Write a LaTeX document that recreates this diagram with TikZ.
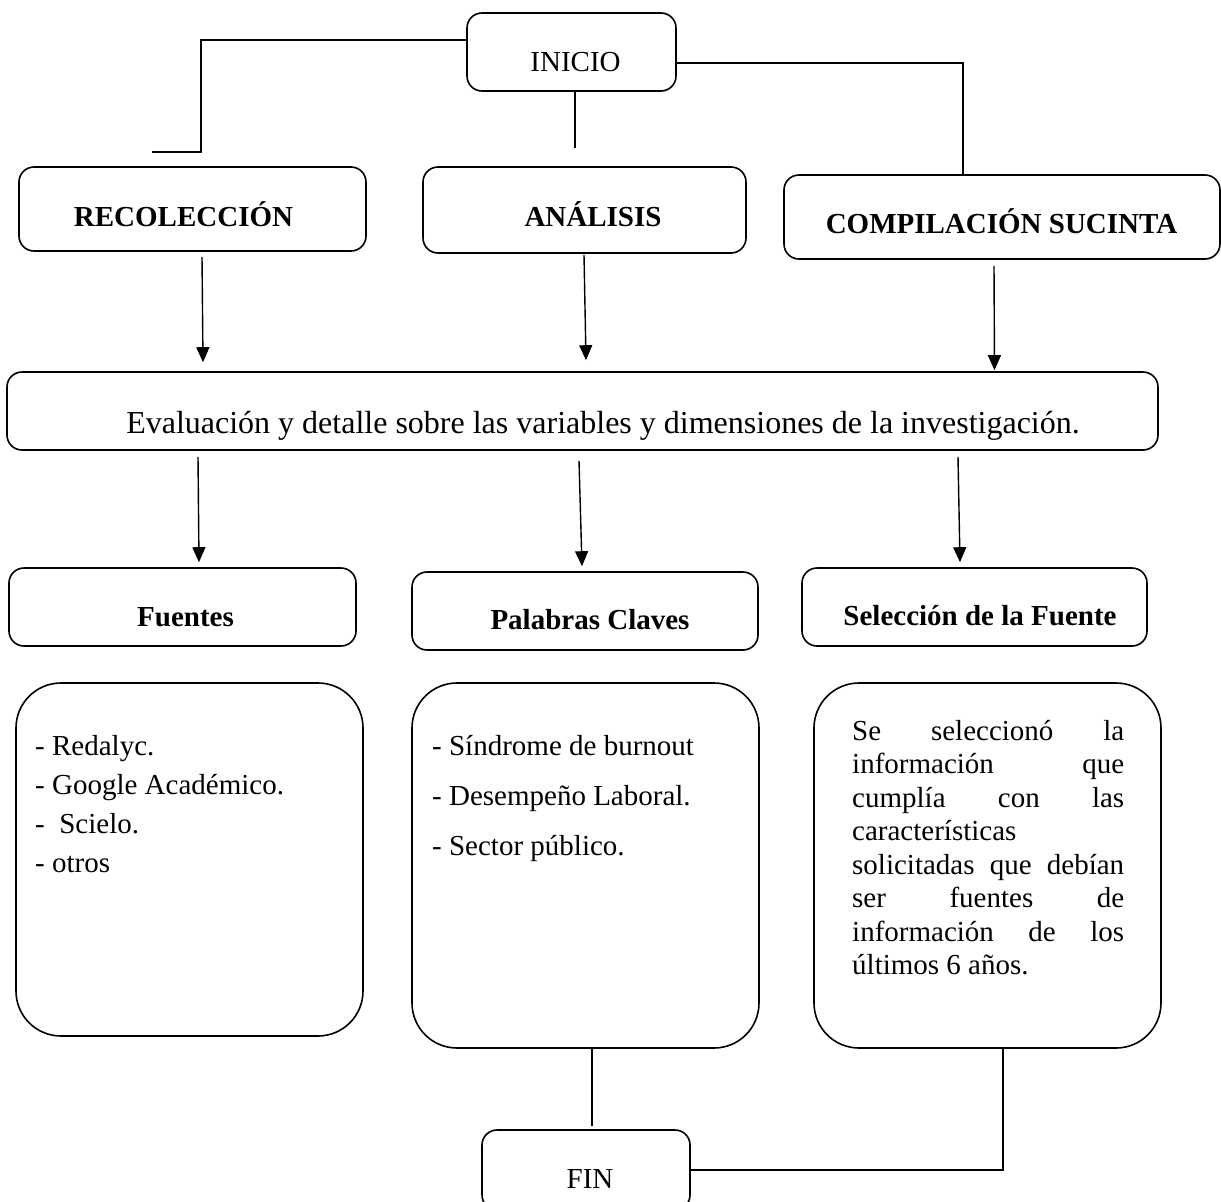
\documentclass[tikz,border=0pt]{standalone}
\usepackage{fontspec}
\setmainfont{Liberation Serif}
\usetikzlibrary{arrows.meta,calc}
\begin{document}
\begin{tikzpicture}[x=1pt,y=-1pt]
\tikzset{
  box/.style={draw, line width=1.6pt, rounded corners=15pt, inner sep=0pt},
  bigbox/.style={draw, line width=1.6pt, rounded corners=45pt, inner sep=0pt},
  txt/.style={font=\fontsize{29}{34}\selectfont, inner sep=0pt, anchor=base},
  btxt/.style={font=\fontsize{29}{34}\selectfont\bfseries, inner sep=0pt, anchor=base},
  listtxt/.style={inner sep=0pt, anchor=base west},
  conn/.style={line width=1.4pt},
  arr/.style={line width=1.4pt, -{Triangle[length=15pt,width=13pt]}},
}
\useasboundingbox (0,0) rectangle (1221,1202);

% boxes
\node[box, minimum width=209pt, minimum height=78pt] (inicio) at (571.5,52) {};
\node[box, minimum width=347pt, minimum height=84pt] (recol) at (192.5,209) {};
\node[box, minimum width=323pt, minimum height=86pt] (anal) at (584.5,210) {};
\node[box, minimum width=436pt, minimum height=84pt] (compil) at (1002,217) {};
\node[box, minimum width=1151pt, minimum height=78pt] (eval) at (582.5,411) {};
\node[box, minimum width=347pt, minimum height=78pt] (fuentes) at (182.5,607) {};
\node[box, minimum width=346pt, minimum height=78pt] (palabras) at (585,611) {};
\node[box, minimum width=345pt, minimum height=78pt] (selec) at (974.5,607) {};
\node[bigbox, minimum width=347pt, minimum height=353pt] (list1) at (189.5,859.5) {};
\node[bigbox, minimum width=347pt, minimum height=365pt] (list2) at (585.5,865.5) {};
\node[bigbox, minimum width=347pt, minimum height=365pt] (list3) at (987.5,865.5) {};
\node[box, minimum width=208pt, minimum height=80pt] (fin) at (586,1170) {};

% texts
\node[txt] (inicio-t) at (575.5,71) {INICIO};
\node[btxt] (recol-t) at (183.5,226) {RECOLECCIÓN};
\node[btxt] (anal-t) at (593,226) {ANÁLISIS};
\node[btxt] (compil-t) at (1001.5,233) {COMPILACIÓN SUCINTA};
\node[txt, font=\fontsize{32}{38}\selectfont] (eval-t) at (603,433) {Evaluación y detalle sobre las variables y dimensiones de la investigación.};
\node[btxt] (fuentes-t) at (185.5,626) {Fuentes};
\node[btxt] (palabras-t) at (590,629) {Palabras Claves};
\node[btxt] (selec-t) at (980,625) {Selección de la Fuente};
\node[txt] (fin-t) at (590,1188) {FIN};

\node[listtxt] (list1-t) at (35,755) {\parbox[t]{320pt}{\fontsize{29}{39}\selectfont
- Redalyc.\\
- Google Académico.\\
-\ \ Scielo.\\
- otros}};
\node[listtxt] (list2-t) at (432,755) {\parbox[t]{320pt}{\fontsize{29}{50}\selectfont
- Síndrome de burnout\\
- Desempeño Laboral.\\
- Sector público.}};
\node[listtxt] (list3-t) at (852,740) {\parbox[t]{272pt}{\fontsize{29}{33.5}\selectfont
\makebox[272pt][s]{Se seleccionó la}\\
\makebox[272pt][s]{información que}\\
\makebox[272pt][s]{cumplía con las}\\
características\\
\makebox[272pt][s]{solicitadas que debían}\\
\makebox[272pt][s]{ser fuentes de}\\
\makebox[272pt][s]{información de los}\\
últimos 6 años.}};

% free ends
\coordinate (k1) at (201,152);
\coordinate (c1) at (152,152);
\coordinate (c2) at (575,148);

% connectors from INICIO
\draw[conn] ([yshift=12pt]inicio.west) -| (k1) -- (c1);
\draw[conn] ([xshift=3.5pt]inicio.south) -- (c2);
\draw[conn] ([yshift=-11pt]inicio.east) -| ([xshift=-39pt]compil.north);

% arrows to evaluation
\draw[arr] ($(recol.south)+(9.5,5)$) -- ($(recol.south |- eval.north)+(10.5,-9)$);
\draw[arr] ($(anal.south)+(-0.5,1)$) -- ($(anal.south |- eval.north)+(1.5,-11)$);
\draw[arr] ($(compil.south)+(-8,6)$) -- ($(compil.south |- eval.north)+(-7.5,-1)$);

% arrows from evaluation
\draw[arr] ($(fuentes.north |- eval.south)+(15.5,6)$) -- ($(fuentes.north)+(16.5,-5)$);
\draw[arr] ($(palabras.north |- eval.south)+(-6,10)$) -- ($(palabras.north)+(-3,-5)$);
\draw[arr] ($(selec.north |- eval.south)+(-16.5,6)$) -- ($(selec.north)+(-14.5,-5)$);

% to FIN
\draw[conn] ($(list2.south)+(6.5,0)$) -- ($(fin.north)+(6,-3)$);
\draw[conn] ($(list3.south)+(15.5,0)$) |- (fin.east);
\end{tikzpicture}
\end{document}
